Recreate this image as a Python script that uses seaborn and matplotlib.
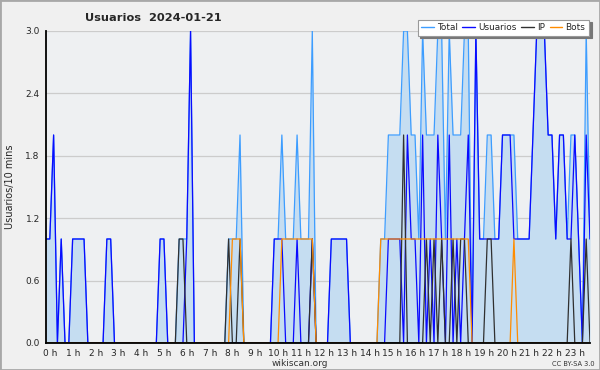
import numpy as np
import pandas as pd
import matplotlib
matplotlib.use('Agg')
import matplotlib.pyplot as plt
import matplotlib.transforms as mtransforms
from matplotlib.lines import Line2D
from matplotlib.patches import Rectangle
import seaborn as sns

# one value per 10 minutes, 0:00 .. 23:50
usuarios = [1, 1, 2, 0, 1, 0, 0, 1, 1, 1, 1, 0,
            0, 0, 0, 0, 1, 1, 0, 0, 0, 0, 0, 0,
            0, 0, 0, 0, 0, 0, 1, 1, 0, 0, 0, 0,
            0, 1, 3, 0, 0, 0, 0, 0, 0, 0, 0, 0,
            0, 0, 0, 0, 0, 0, 0, 0, 0, 0, 0, 0,
            1, 1, 1, 0, 0, 0, 1, 0, 0, 0, 1, 0,
            0, 0, 0, 1, 1, 1, 1, 1, 0, 0, 0, 0,
            0, 0, 0, 0, 0, 0, 1, 1, 1, 1, 0, 2,
            1, 1, 0, 2, 0, 1, 0, 2, 1, 0, 2, 0,
            1, 0, 1, 2, 0, 3, 1, 1, 1, 1, 1, 1,
            2, 2, 2, 1, 1, 1, 1, 1, 2, 3, 3, 3,
            2, 2, 1, 2, 2, 1, 1, 2, 1, 0, 2, 1]
ip = [0, 0, 0, 0, 0, 0, 0, 0, 0, 0, 0, 0,
      0, 0, 0, 0, 0, 0, 0, 0, 0, 0, 0, 0,
      0, 0, 0, 0, 0, 0, 0, 0, 0, 0, 0, 1,
      1, 0, 0, 0, 0, 0, 0, 0, 0, 0, 0, 0,
      1, 0, 0, 1, 0, 0, 0, 0, 0, 0, 0, 0,
      0, 0, 0, 0, 0, 0, 0, 0, 0, 0, 1, 0,
      0, 0, 0, 0, 0, 0, 0, 0, 0, 0, 0, 0,
      0, 0, 0, 0, 0, 0, 0, 0, 0, 0, 2, 0,
      0, 0, 0, 0, 1, 0, 1, 0, 1, 0, 0, 1,
      0, 1, 1, 0, 0, 0, 0, 0, 1, 1, 0, 0,
      0, 0, 0, 0, 0, 0, 0, 0, 0, 0, 0, 0,
      0, 0, 0, 0, 0, 0, 1, 0, 0, 0, 1, 0]
bots = [0, 0, 0, 0, 0, 0, 0, 0, 0, 0, 0, 0,
        0, 0, 0, 0, 0, 0, 0, 0, 0, 0, 0, 0,
        0, 0, 0, 0, 0, 0, 0, 0, 0, 0, 0, 0,
        0, 0, 0, 0, 0, 0, 0, 0, 0, 0, 0, 0,
        0, 1, 1, 1, 0, 0, 0, 0, 0, 0, 0, 0,
        0, 0, 1, 1, 1, 1, 1, 1, 1, 1, 1, 0,
        0, 0, 0, 0, 0, 0, 0, 0, 0, 0, 0, 0,
        0, 0, 0, 0, 1, 1, 1, 1, 1, 1, 1, 1,
        1, 1, 1, 1, 1, 1, 1, 1, 1, 1, 1, 1,
        1, 1, 1, 1, 0, 0, 0, 0, 0, 0, 0, 0,
        0, 0, 0, 1, 0, 0, 0, 0, 0, 0, 0, 0,
        0, 0, 0, 0, 0, 0, 0, 0, 0, 0, 0, 0]
total = [1, 1, 2, 0, 1, 0, 0, 1, 1, 1, 1, 0,
         0, 0, 0, 0, 1, 1, 0, 0, 0, 0, 0, 0,
         0, 0, 0, 0, 0, 0, 1, 1, 0, 0, 0, 1,
         1, 1, 3, 0, 0, 0, 0, 0, 0, 0, 0, 0,
         1, 1, 1, 2, 0, 0, 0, 0, 0, 0, 0, 0,
         1, 1, 2, 1, 1, 1, 2, 1, 1, 1, 3, 0,
         0, 0, 0, 1, 1, 1, 1, 1, 0, 0, 0, 0,
         0, 0, 0, 0, 1, 1, 2, 2, 2, 2, 3, 3,
         2, 2, 1, 3, 2, 2, 2, 3, 3, 1, 3, 2,
         2, 2, 3, 3, 0, 3, 1, 1, 2, 2, 1, 1,
         2, 2, 2, 2, 1, 1, 1, 1, 2, 3, 3, 3,
         2, 2, 1, 2, 2, 1, 2, 2, 1, 0, 3, 1]
hour_labels = [f"{h} h" for h in range(24)]

series = ['Total', 'Usuarios', 'IP', 'Bots']
colors = {'Total': '#3d9dff', 'Usuarios': '#0a0aff', 'IP': '#303030', 'Bots': '#ff8c00'}

slots = np.arange(len(total))
df = pd.DataFrame({'slot': slots, 'Total': total, 'Usuarios': usuarios,
                   'IP': ip, 'Bots': bots})
long_df = df.melt(id_vars='slot', var_name='serie', value_name='valor')

sns.set_style('white')
plt.rcParams['font.family'] = ['DejaVu Sans']

fig = plt.figure(figsize=(6, 3.7), dpi=100, facecolor='#f0f0f0')
fig.patches.append(Rectangle((0, 0), 1, 1, transform=fig.transFigure,
                             fill=False, ec='#a8a8a8', lw=2))
ax = fig.add_axes([46 / 600, 1 - 343 / 370, 544 / 600, 312 / 370])
ax.set_facecolor('#eef0f2')

ax.fill_between(df['slot'], df['Total'], color='#c5ddf1', lw=0, zorder=1)
sns.lineplot(data=long_df, x='slot', y='valor', hue='serie', hue_order=series,
             palette=colors, lw=0.9, legend=False, ax=ax, zorder=3)

ax.set_xlim(0, len(total) - 1)
ax.set_ylim(0, 3)
ax.set_yticks(np.arange(0, 3.01, 0.6))
ax.set_yticklabels([f"{v:.1f}" for v in np.arange(0, 3.01, 0.6)])
ax.set_yticks(np.arange(0, 3.01, 0.15), minor=True)
ax.set_xticks(np.arange(0, 144, 6))
ax.set_xticklabels(hour_labels)
ax.set_xticks(np.arange(0, 144, 1), minor=True)
ax.tick_params(axis='both', which='major', length=4, width=1, labelsize=6.5,
               color='black', pad=0.5)
ax.tick_params(axis='both', which='minor', length=3, width=1, color='black')
for lab in ax.get_xticklabels():
    lab.set_transform(lab.get_transform() +
                      mtransforms.ScaledTranslation(4 / 100, 0, fig.dpi_scale_trans))
ax.grid(axis='y', which='major', color='#cccccc', lw=0.9, zorder=0)
ax.set_axisbelow(True)
for s in ['top', 'right']:
    ax.spines[s].set_visible(False)
for s in ['left', 'bottom']:
    ax.spines[s].set_color('black')
    ax.spines[s].set_linewidth(1.3)
    ax.spines[s].set_zorder(10)
ax.set_xlabel('')
ax.set_ylabel('')

fig.text(85 / 600, 1 - 18 / 370, 'Usuarios  2024-01-21', fontsize=8.2,
         fontweight='bold', ha='left', va='center')
fig.text(10 / 600, 1 - 187 / 370, 'Usuarios/10 mins', fontsize=7,
         rotation=90, ha='center', va='center')
fig.text(300 / 600, 1 - 363.5 / 370, 'wikiscan.org', fontsize=6.5,
         ha='center', va='center', color='#333333')
fig.text(595 / 600, 1 - 364 / 370, 'CC BY-SA 3.0', fontsize=4.8,
         ha='right', va='center', color='#333333')

handles = [Line2D([0], [0], color=colors[s], lw=1.0) for s in series]
leg = fig.legend(handles, series, loc='upper right',
                 bbox_to_anchor=(589 / 600, 1 - 19.5 / 370), ncol=4, fontsize=6.4,
                 frameon=True, fancybox=False, edgecolor='#999999',
                 shadow={'color': '#777777', 'alpha': 1},
                 borderpad=0.4, handlelength=1.4, handletextpad=0.4,
                 columnspacing=0.5, borderaxespad=0)
leg.get_frame().set_linewidth(0.8)

fig.savefig('out.png', dpi=100, facecolor=fig.get_facecolor())
